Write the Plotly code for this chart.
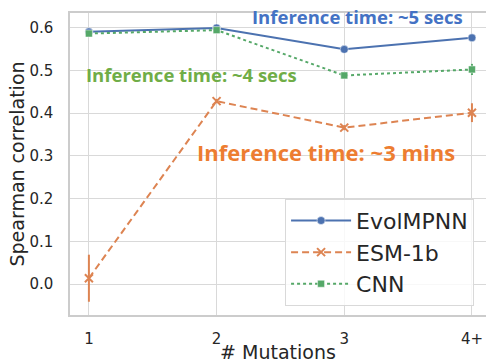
import plotly.graph_objects as go

categories = ["1", "2", "3", "4+"]
x_pos = [1, 2, 3, 4]
evol_vals = [0.590, 0.599, 0.549, 0.576]
evol_err = [0.004, 0.003, 0.004, 0.003]
esm_vals = [0.014, 0.428, 0.366, 0.401]
esm_err = [0.055, 0.005, 0.006, 0.022]
cnn_vals = [0.586, 0.594, 0.488, 0.502]
cnn_err = [0.004, 0.003, 0.005, 0.013]
y_ticks = [0.0, 0.1, 0.2, 0.3, 0.4, 0.5, 0.6]

BLUE = "#4C72B0"
ORANGE = "#DD8452"
GREEN = "#55A868"

fig = go.Figure()
fig.add_trace(go.Scatter(
    x=x_pos, y=evol_vals, name="EvolMPNN", mode="lines+markers",
    line=dict(color=BLUE, width=2, dash="solid"),
    marker=dict(symbol="circle", size=8, color=BLUE, line=dict(color="white", width=0.5)),
    error_y=dict(type="data", array=evol_err, color=BLUE, thickness=2, width=0),
))
fig.add_trace(go.Scatter(
    x=x_pos, y=esm_vals, name="ESM-1b", mode="lines+markers",
    line=dict(color=ORANGE, width=2, dash="7px,4px"),
    marker=dict(symbol="x-thin", size=8, color=ORANGE, line=dict(color=ORANGE, width=2)),
    error_y=dict(type="data", array=esm_err, color=ORANGE, thickness=2, width=0),
))
fig.add_trace(go.Scatter(
    x=x_pos, y=cnn_vals, name="CNN", mode="lines+markers",
    line=dict(color=GREEN, width=2, dash="dot"),
    marker=dict(symbol="square", size=7, color=GREEN, line=dict(color="white", width=0.5)),
    error_y=dict(type="data", array=cnn_err, color=GREEN, thickness=2, width=0),
))

annos = [
    dict(x=3.1, y=0.625, text="<b>Inference time: ~5 secs</b>", color="#4472C4", size=18.5),
    dict(x=1.8, y=0.491, text="<b>Inference time: ~4 secs</b>", color="#70AD47", size=18.5),
    dict(x=2.86, y=0.308, text="<b>Inference time: ~3 mins</b>", color="#ED7D31", size=22),
]
for a in annos:
    fig.add_annotation(x=a["x"], y=a["y"], xref="x", yref="y", text=a["text"], showarrow=False,
                       font=dict(family="Open Sans", size=a["size"], color=a["color"]))

axis_common = dict(
    showgrid=True, gridcolor="#d9d9d9", gridwidth=1,
    showline=True, linecolor="#cccccc", linewidth=1.5, mirror=True,
    zeroline=False, ticks="", automargin=False,
    tickfont=dict(family="DejaVu Sans", size=15, color="#262626"),
)
fig.update_layout(
    width=486, height=363,
    margin=dict(l=70, r=0, t=13, b=48),
    paper_bgcolor="white", plot_bgcolor="white",
    xaxis=dict(**axis_common, tickvals=x_pos, ticktext=categories, range=[0.852, 4.11],
               ticklabelstandoff=9,
               title=dict(text="# Mutations", standoff=3,
                          font=dict(family="DejaVu Sans", size=19, color="#262626"))),
    yaxis=dict(**axis_common, tickvals=y_ticks, tickformat=".1f", range=[-0.072, 0.634],
               ticklabelstandoff=12,
               title=dict(text="Spearman correlation", standoff=0,
                          font=dict(family="DejaVu Sans", size=19, color="#262626"))),
    legend=dict(x=0.517, y=0.385, xanchor="left", yanchor="top",
                bgcolor="rgba(255,255,255,0.8)", bordercolor="#d9d9d9", borderwidth=1,
                font=dict(family="DejaVu Sans", size=22, color="#262626"),
                itemwidth=60, tracegroupgap=0),
    showlegend=True,
)

fig.write_html("out.html", config={"displayModeBar": False},
               post_script="document.body.style.margin='0px';")
